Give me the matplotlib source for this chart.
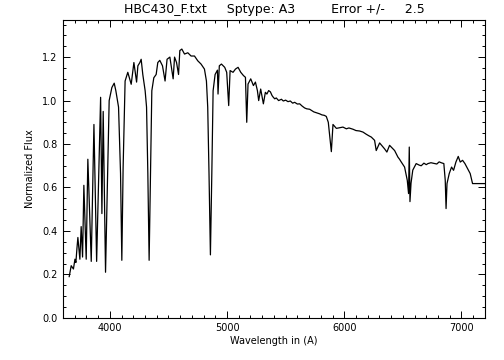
import matplotlib
matplotlib.use("Agg")
import matplotlib.pyplot as plt
from matplotlib.ticker import MultipleLocator

# Spectrum (wavelength in Angstrom, normalized flux)
wavelength = [
    3653, 3670, 3689, 3702, 3710, 3719, 3727, 3744, 3755, 3767, 3778, 3798,
    3812, 3841, 3864, 3887, 3921, 3932, 3943, 3963, 3994, 4017, 4037, 4051,
    4074, 4091, 4102, 4113, 4130, 4153, 4182, 4205, 4228, 4239, 4256, 4267,
    4281, 4301, 4313, 4324, 4335, 4347, 4358, 4375, 4395, 4409, 4426, 4449,
    4471, 4488, 4512, 4540, 4552, 4569, 4586, 4597, 4614, 4637, 4665, 4693,
    4722, 4750, 4778, 4807, 4824, 4835, 4846, 4858, 4870, 4881, 4898, 4918,
    4923, 4934, 4952, 4980, 4997, 5014, 5026, 5051, 5072, 5094, 5117, 5140,
    5157, 5168, 5179, 5202, 5225, 5242, 5259, 5270, 5287, 5310, 5327, 5340,
    5355, 5370, 5384, 5395, 5407, 5420, 5440, 5464, 5480, 5500, 5520, 5540,
    5560, 5577, 5600, 5620, 5640, 5662, 5680, 5705, 5720, 5740, 5762, 5775,
    5790, 5810, 5830, 5847, 5864, 5890, 5904, 5933, 5961, 5989, 6018, 6040,
    6075, 6100, 6131, 6160, 6188, 6210, 6231, 6259, 6273, 6302, 6344, 6364,
    6387, 6415, 6430, 6458, 6472, 6487, 6515, 6538, 6549, 6555, 6561, 6570,
    6585, 6614, 6640, 6657, 6680, 6700, 6714, 6740, 6771, 6790, 6810, 6827,
    6850, 6862, 6869, 6877, 6896, 6916, 6933, 6953, 6973, 6990, 7010, 7030,
    7052, 7075, 7095, 7200,
]
flux = [
    0.19, 0.24, 0.225, 0.27, 0.255, 0.32, 0.37, 0.27, 0.42, 0.28, 0.61, 0.27,
    0.73, 0.26, 0.89, 0.26, 1.015, 0.48, 0.95, 0.21, 1.00, 1.06, 1.08, 1.045,
    0.97, 0.665, 0.265, 0.69, 1.09, 1.13, 1.075, 1.175, 1.085, 1.16, 1.175, 1.19,
    1.12, 1.045, 0.97, 0.665, 0.265, 0.665, 1.045, 1.105, 1.12, 1.175, 1.185, 1.16,
    1.09, 1.19, 1.20, 1.10, 1.20, 1.175, 1.12, 1.23, 1.237, 1.214, 1.22, 1.205,
    1.205, 1.183, 1.168, 1.145, 1.09, 0.97, 0.665, 0.29, 0.665, 1.045, 1.12, 1.14,
    1.03, 1.16, 1.168, 1.153, 1.13, 0.977, 1.138, 1.13, 1.145, 1.153, 1.13, 1.115,
    1.107, 0.90, 1.076, 1.10, 1.069, 1.085, 1.046, 1.00, 1.053, 0.985, 1.038, 1.03,
    1.046, 1.04, 1.023, 1.015, 1.008, 1.012, 1.00, 1.006, 0.998, 1.002, 0.995, 0.998,
    0.988, 0.992, 0.984, 0.985, 0.975, 0.966, 0.962, 0.960, 0.955, 0.948, 0.944, 0.942,
    0.939, 0.934, 0.932, 0.927, 0.90, 0.765, 0.89, 0.872, 0.875, 0.878, 0.87, 0.874,
    0.868, 0.862, 0.86, 0.855, 0.845, 0.838, 0.832, 0.817, 0.77, 0.805, 0.778, 0.763,
    0.794, 0.778, 0.77, 0.74, 0.73, 0.717, 0.694, 0.633, 0.572, 0.786, 0.535, 0.62,
    0.68, 0.71, 0.703, 0.70, 0.712, 0.705, 0.71, 0.714, 0.71, 0.708, 0.718, 0.714,
    0.71, 0.633, 0.503, 0.618, 0.664, 0.694, 0.679, 0.717, 0.743, 0.717, 0.725, 0.71,
    0.687, 0.664, 0.618, 0.618,
]

title_text = "HBC430_F.txt     Sptype: A3         Error +/-     2.5"
x_label = "Wavelength in (A)"
y_label = "Normalized Flux"

fig = plt.figure(figsize=(5.04, 3.60), dpi=100)
ax = fig.add_axes([0.125, 0.117, 0.837, 0.827])
ax.plot(wavelength, flux, color="black", lw=0.9)

ax.set_xlim(3600, 7200)
ax.set_ylim(0.0, 1.37)
ax.xaxis.set_major_locator(MultipleLocator(1000))
ax.xaxis.set_minor_locator(MultipleLocator(100))
ax.yaxis.set_major_locator(MultipleLocator(0.2))
ax.yaxis.set_minor_locator(MultipleLocator(0.05))
ax.yaxis.set_major_formatter(plt.FuncFormatter(lambda v, p: f"{v:.1f}"))

ax.tick_params(which="both", direction="in", top=True, right=True,
               width=0.7, colors="black", labelsize=7, pad=4)
ax.tick_params(which="major", length=5)
ax.tick_params(which="minor", length=2.5)
for s in ax.spines.values():
    s.set_linewidth(0.8)

ax.set_xlabel(x_label, fontsize=7, labelpad=2)
ax.set_ylabel(y_label, fontsize=7, labelpad=5)
ax.set_title(title_text, fontsize=9, pad=5)

fig.savefig("out.png", dpi=100)
